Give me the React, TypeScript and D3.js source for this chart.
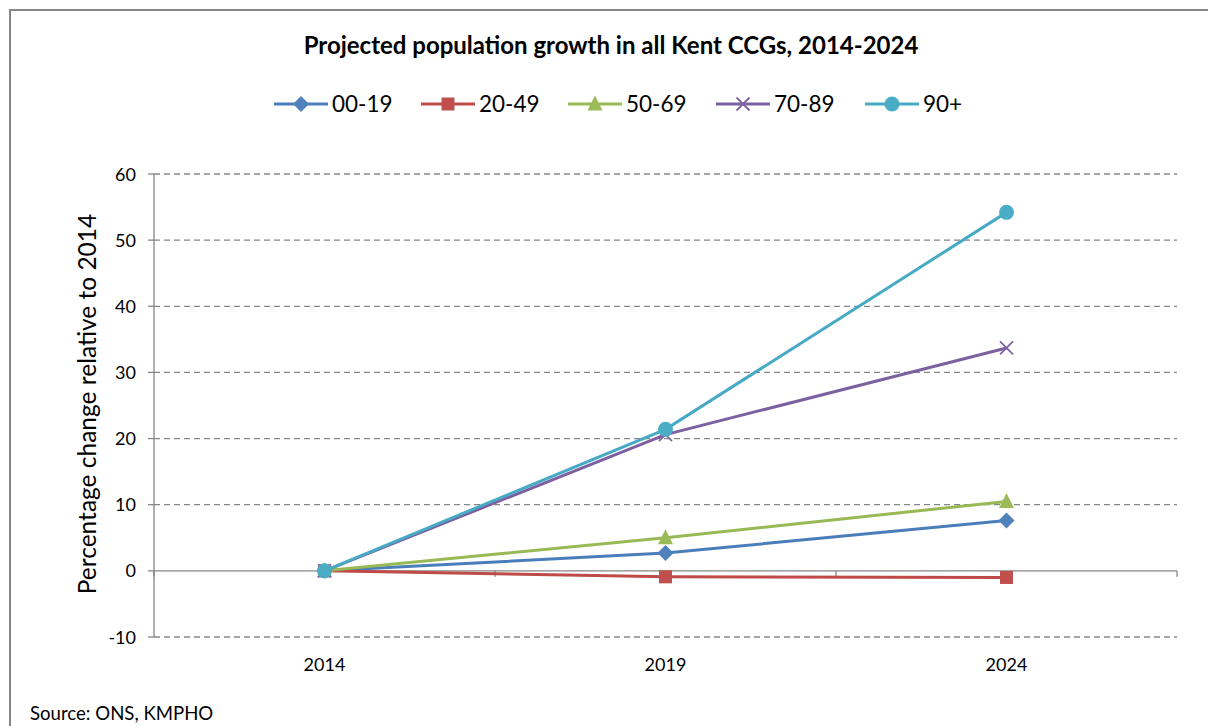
import React from "react";
import * as d3 from "d3";

const years = ["2014", "2019", "2024"];
const seriesNames = ["00-19", "20-49", "50-69", "70-89", "90+"];
const values00_19 = [0, 2.7, 7.6];
const values20_49 = [0, -0.9, -1.0];
const values50_69 = [0, 5.0, 10.5];
const values70_89 = [0, 20.6, 33.7];
const values90p = [0, 21.4, 54.2];
const yTicks = [-10, 0, 10, 20, 30, 40, 50, 60];
const seriesValues = [values00_19, values20_49, values50_69, values70_89, values90p];
const lineColors = ["#4A7EBB", "#BE4B48", "#98B954", "#7D60A0", "#46AAC5"];
const markerColors = ["#4F81BD", "#C0504D", "#9BBB59", "#8064A2", "#4BACC6"];
const markerTypes = ["diamond", "square", "triangle", "x", "circle"];
const legendX = [274, 421, 568, 716, 865];

const FONT = "Lato, 'Open Sans', sans-serif";

function Marker({ type, x, y, color }: { type: string; x: number; y: number; color: string }) {
  if (type === "diamond") {
    const s = 8;
    return <path d={`M${x},${y - s}L${x + s},${y}L${x},${y + s}L${x - s},${y}Z`} fill={color} />;
  }
  if (type === "square") {
    const s = 6.5;
    return <rect x={x - s} y={y - s} width={2 * s} height={2 * s} fill={color} />;
  }
  if (type === "triangle") {
    const s = 7.5;
    return <path d={`M${x},${y - s - 1}L${x + s},${y + s - 1}L${x - s},${y + s - 1}Z`} fill={color} />;
  }
  if (type === "x") {
    const s = 6.5;
    return (
      <path
        d={`M${x - s},${y - s}L${x + s},${y + s}M${x - s},${y + s}L${x + s},${y - s}`}
        stroke={color}
        strokeWidth={1.8}
      />
    );
  }
  return <circle cx={x} cy={y} r={7.5} fill={color} />;
}

export default function App() {
  const W = 1208;
  const H = 726;
  const left = 154;
  const right = 1177;
  const x = d3.scaleBand<string>().domain(years).range([left, right]);
  const y = d3.scaleLinear().domain([-10, 60]).range([637, 174]);
  const cx = (yr: string) => (x(yr) as number) + x.bandwidth() / 2;
  const line = d3
    .line<number>()
    .x((_, i) => cx(years[i]))
    .y((v) => y(v));
  const y0 = y(0);
  const bandEdges = years.map((yr) => x(yr) as number).concat([right]);
  const axisColor = "#868686";

  return (
    <svg width={W} height={H} style={{ position: "absolute", left: 0, top: 0, background: "#fff" }}>
      <rect x={10} y={10} width={1300} height={800} fill="#fff" stroke={axisColor} strokeWidth={2} />
      <text
        x={611}
        y={54}
        textAnchor="middle"
        fontFamily={FONT}
        fontWeight="bold"
        fontSize={24}
        fill="#000"
      >
        Projected population growth in all Kent CCGs, 2014-2024
      </text>

      {/* legend */}
      {seriesNames.map((name, i) => (
        <g key={name}>
          <line
            x1={legendX[i]}
            x2={legendX[i] + 54}
            y1={104}
            y2={104}
            stroke={lineColors[i]}
            strokeWidth={3}
          />
          <Marker type={markerTypes[i]} x={legendX[i] + 27} y={104} color={markerColors[i]} />
          <text x={legendX[i] + 58} y={112} fontFamily={FONT} fontSize={22.5} fill="#000">
            {name}
          </text>
        </g>
      ))}

      {/* gridlines */}
      {yTicks
        .filter((t) => t !== 0)
        .map((t) => (
          <line
            key={t}
            x1={left}
            x2={right}
            y1={y(t)}
            y2={y(t)}
            stroke={axisColor}
            strokeWidth={1.3}
            strokeDasharray="6,4"
          />
        ))}

      {/* y axis */}
      <line x1={left} x2={left} y1={y(60)} y2={y(-10)} stroke={axisColor} strokeWidth={1.3} />
      {yTicks.map((t) => (
        <g key={t}>
          <line x1={left - 6} x2={left} y1={y(t)} y2={y(t)} stroke={axisColor} strokeWidth={1.3} />
          <text
            x={136}
            y={y(t) + 6.5}
            textAnchor="end"
            fontFamily={FONT}
            fontSize={18}
            fill="#000"
          >
            {t}
          </text>
        </g>
      ))}

      {/* x axis at zero */}
      <line x1={left} x2={right} y1={y0} y2={y0} stroke={axisColor} strokeWidth={1.3} />
      {bandEdges.map((bx, i) => (
        <line key={i} x1={bx} x2={bx} y1={y0} y2={y0 + 6} stroke={axisColor} strokeWidth={1.3} />
      ))}
      {years.map((yr) => (
        <text
          key={yr}
          x={cx(yr)}
          y={671}
          textAnchor="middle"
          fontFamily={FONT}
          fontSize={18}
          fill="#000"
        >
          {yr}
        </text>
      ))}

      <text
        transform={`translate(96,404) rotate(-90)`}
        textAnchor="middle"
        fontFamily={FONT}
        fontSize={24.5}
        fill="#000"
      >
        Percentage change relative to 2014
      </text>

      {/* series */}
      {seriesValues.map((vals, i) => (
        <g key={seriesNames[i]}>
          <path d={line(vals) as string} fill="none" stroke={lineColors[i]} strokeWidth={3} />
          {vals.map((v, j) => (
            <Marker key={j} type={markerTypes[i]} x={cx(years[j])} y={y(v)} color={markerColors[i]} />
          ))}
        </g>
      ))}

      <text x={30} y={720} fontFamily={FONT} fontSize={18.6} fill="#000">
        Source: ONS, KMPHO
      </text>
    </svg>
  );
}
